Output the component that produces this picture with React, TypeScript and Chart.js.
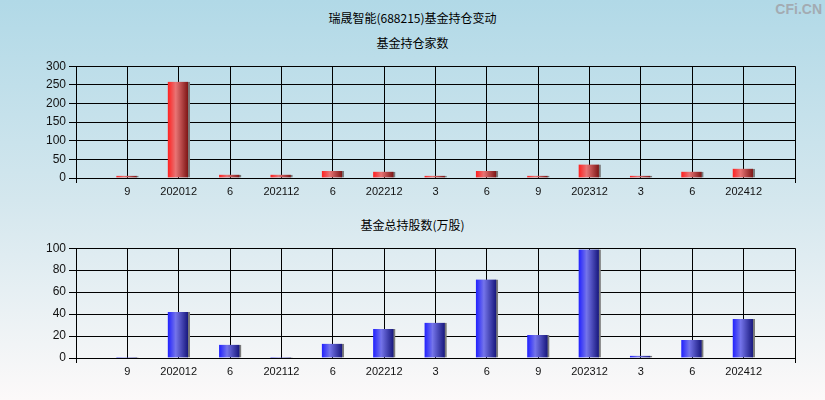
import React, { useEffect, useRef } from "react";
import { Chart, registerables } from "chart.js";

Chart.register(...registerables);

const categories = ["", "9", "202012", "6", "202112", "6", "202212", "3", "6", "9", "202312", "3", "6", "202412", ""];
const fundCounts = [null, 6, 258, 9, 9, 19, 17, 6, 19, 6, 36, 6, 17, 25, null];
const fundShares = [null, 1, 42, 12, 1, 13, 26.5, 32, 71.5, 21, 98.8, 2, 16.5, 35.5, null];
const countTicks = { min: 0, max: 300, step: 50 };
const shareTicks = { min: 0, max: 100, step: 20 };

const X_FONT = { family: "'Liberation Sans', Arial, sans-serif", size: 11 };
const Y_FONT = { family: "'Liberation Sans', Arial, sans-serif", size: 12 };

function gradientFor(stops: string[]) {
  return (c: any) => {
    const chart = c.chart;
    const xs = chart.scales && chart.scales.x;
    if (!xs || c.dataIndex == null) return stops[0];
    const x = xs.getPixelForValue(c.dataIndex);
    if (!Number.isFinite(x)) return stops[0];
    const g = chart.ctx.createLinearGradient(x - 11, 0, x + 9, 0);
    g.addColorStop(0, stops[0]);
    g.addColorStop(0.4, stops[1]);
    g.addColorStop(1, stops[2]);
    return g;
  };
}

function makeConfig(values: (number | null)[], range: { min: number; max: number; step: number }, stops: string[]) {
  const last = categories.length - 1;
  return {
    type: "bar" as const,
    data: {
      labels: categories,
      datasets: [
        {
          data: values,
          backgroundColor: gradientFor(stops),
          borderColor: "#7a7a7a",
          borderWidth: { left: 0, right: 2, top: 0, bottom: 0 },
          borderSkipped: false,
          barThickness: 22,
        },
      ],
    },
    options: {
      responsive: false,
      animation: false,
      devicePixelRatio: 1,
      layout: { padding: { top: 10, right: 30, left: 0, bottom: 0 } },
      plugins: { legend: { display: false }, tooltip: { enabled: false }, title: { display: false } },
      scales: {
        x: {
          type: "category",
          offset: false,
          afterFit: (s: any) => {
            s.height = 28;
          },
          grid: {
            offset: false,
            color: "#000",
            lineWidth: 1,
            drawTicks: true,
            tickLength: 5,
            tickColor: (c: any) => (c.index === 0 || c.index === last ? "#000" : "rgba(0,0,0,0)"),
          },
          border: { display: true, color: "#000", width: 1 },
          ticks: {
            autoSkip: false,
            maxRotation: 0,
            color: "#111",
            font: X_FONT,
            padding: 2,
          },
        },
        y: {
          min: range.min,
          max: range.max,
          afterFit: (s: any) => {
            s.width = 76;
          },
          grid: { color: "#000", lineWidth: 1, tickLength: 7, tickColor: "#000" },
          border: { display: true, color: "#000", width: 1 },
          ticks: { stepSize: range.step, color: "#111", font: Y_FONT, padding: 3 },
        },
      },
    },
  };
}

function BarChart({ values, range, stops, top, height }: any) {
  const ref = useRef<HTMLCanvasElement | null>(null);
  useEffect(() => {
    if (!ref.current) return;
    const chart = new Chart(ref.current, makeConfig(values, range, stops) as any);
    chart.update();
    return () => chart.destroy();
  }, []);
  return (
    <canvas
      ref={ref}
      width={825}
      height={height}
      style={{ position: "absolute", left: 0, top, width: 825, height }}
    />
  );
}

const textStyle: React.CSSProperties = {
  position: "absolute",
  left: 0,
  width: 825,
  textAlign: "center",
  fontFamily: "'Noto Sans CJK SC', sans-serif",
  fontSize: 12,
  lineHeight: "16px",
  color: "#000",
};

export default function App() {
  return (
    <div
      style={{
        position: "absolute",
        left: 0,
        top: 0,
        width: 825,
        height: 400,
        overflow: "hidden",
        background: "linear-gradient(to bottom, #b1d9e7 0%, #d4e7ee 50%, #fcf9f9 100%)",
      }}
    >
      <div style={{ ...textStyle, top: 10 }}>瑞晟智能(688215)基金持仓变动</div>
      <div style={{ ...textStyle, top: 35 }}>基金持仓家数</div>
      <div style={{ ...textStyle, top: 217 }}>基金总持股数(万股)</div>
      <div
        style={{
          position: "absolute",
          right: 3,
          top: 1,
          fontFamily: "'Liberation Sans Narrow', 'Liberation Sans', Arial, sans-serif",
          fontWeight: "bold",
          fontSize: 14,
          color: "#a3abb2",
        }}
      >
        CFi.CN
      </div>
      <BarChart values={fundCounts} range={countTicks} stops={["#ff2020", "#e87474", "#801818"]} top={56} height={150} />
      <BarChart values={fundShares} range={shareTicks} stops={["#2020ff", "#7474ea", "#1a1a80"]} top={238} height={148} />
    </div>
  );
}
